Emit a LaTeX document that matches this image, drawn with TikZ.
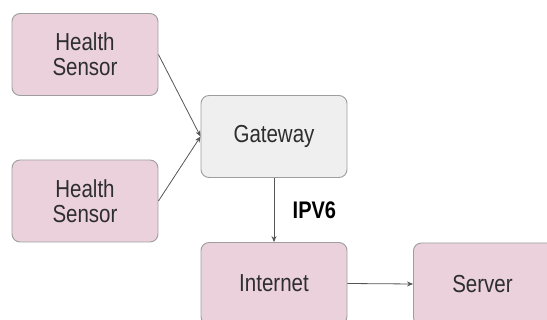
\documentclass[tikz,border=0pt]{standalone}
\usepackage{fontspec}
\setmainfont{Liberation Sans}
\usetikzlibrary{arrows.meta}
\definecolor{pinkfill}{HTML}{EAD1DC}
\definecolor{grayfill}{HTML}{EFEFEF}
\definecolor{boxborder}{HTML}{9E9E9E}
\definecolor{txt}{HTML}{2E2E2E}
\definecolor{arr}{HTML}{555555}
\tikzset{
  box/.style={draw=boxborder, line width=0.9pt, rounded corners=8pt,
    minimum width=146pt, minimum height=82pt, align=center, text=txt,
    font=\fontsize{20.5}{23}\selectfont, inner sep=0pt},
  pinkbox/.style={box, fill=pinkfill},
  graybox/.style={box, fill=grayfill},
  conn/.style={draw=arr, line width=0.8pt, -{Stealth[length=6pt,width=5pt]}},
}
\newcommand{\tall}[1]{\scalebox{1}[1.2]{#1}}
\begin{document}
\begin{tikzpicture}[x=1pt,y=-1pt]
\useasboundingbox (0,0) rectangle (547,320);
\node[pinkbox] (s1) at (85,54.5) {\tall{\shortstack{Health\\[3pt]Sensor}}};
\node[pinkbox] (s2) at (85,201) {\tall{\shortstack{Health\\[3pt]Sensor}}};
\node[graybox] (gw) at (274,136.5) {\tall{Gateway}};
\node[pinkbox] (in) at (274,283.5) {\tall{Internet}};
\node[pinkbox, anchor=west] (sv) at (413,284) {\tall{Server}\hspace*{8pt}};
\draw[conn] (s1.east) -- (gw.west);
\draw[conn] (s2.east) -- (gw.west);
\draw[conn] (gw.south) -- node[right=15pt, text=black, font=\bfseries\fontsize{20}{22}\selectfont] (lbl) {\tall{IPV6}} (in.north);
\draw[conn] (in.east) -- (sv.west);
\end{tikzpicture}
\end{document}
